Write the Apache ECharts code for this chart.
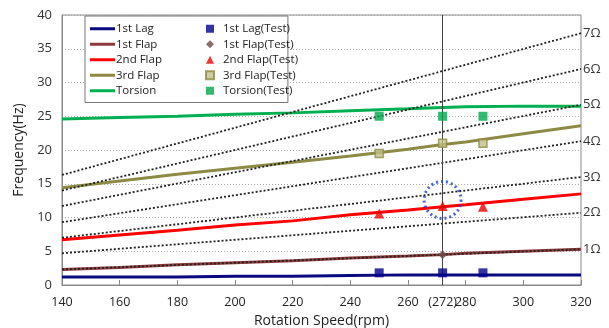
<!DOCTYPE html>
<html><head><meta charset="utf-8">
<script src="https://cdn.jsdelivr.net/npm/echarts@6/dist/echarts.min.js"></script>
<style>html,body{margin:0;padding:0;background:#fff}#c{width:609px;height:328px}</style>
</head><body><div id="c"></div>
<script>
// ---- data ----
const rpm      = [140, 160, 180, 200, 220, 240, 260, 272, 280, 300, 320];
const lag1     = [1.2, 1.2, 1.2, 1.3, 1.3, 1.4, 1.5, 1.5, 1.5, 1.5, 1.5];
const flap1    = [2.3, 2.6, 3.0, 3.3, 3.6, 4.0, 4.3, 4.5, 4.7, 5.0, 5.3];
const flap2    = [6.7, 7.4, 8.1, 8.9, 9.5, 10.4, 11.1, 11.6, 11.9, 12.7, 13.5];
const flap3    = [14.4, 15.4, 16.4, 17.3, 18.2, 19.1, 20.1, 20.8, 21.2, 22.4, 23.6];
const torsion  = [24.6, 24.8, 25.0, 25.3, 25.5, 25.8, 26.1, 26.3, 26.4, 26.5, 26.5];

const testRpm      = [250, 272, 286];
const lagTest      = [1.8, 1.8, 1.8];
const flap1TestRpm = [272];
const flap1Test    = [4.5];
const flap2Test    = [10.6, 11.7, 11.6];
const flap3Test    = [19.5, 21.0, 21.0];
const torsionTest  = [25.0, 25.0, 25.0];

const omegaRpm    = [140, 320];
const omegaLabels = ['1Ω', '2Ω', '3Ω', '4Ω', '5Ω', '6Ω', '7Ω'];
const omegaVals   = [[2.3, 5.3], [4.7, 10.7], [7.0, 16.0], [9.3, 21.3], [11.7, 26.7], [14.0, 32.0], [16.3, 37.3]];

const markRpm = 272;
const circleAt = [272, 12.6];

const xLabelValues = [140, 160, 180, 200, 220, 240, 260, 272, 280, 300, 320];
const xTickValues  = [140, 160, 180, 200, 220, 240, 260, 280, 300, 320];

// ---- chart ----
const FONT = 'Open Sans';
const zip = (xs, ys) => xs.map((x, i) => [x, ys[i]]);

const lineSeries = (name, ys, color) => ({
  name, type: 'line', data: zip(rpm, ys), symbol: 'none', smooth: false,
  lineStyle: { color, width: 3 }, itemStyle: { color }, z: 3
});

const series = [];
omegaVals.forEach((v, i) => {
  series.push({
    name: omegaLabels[i], type: 'line', data: zip(omegaRpm, v), symbol: 'none',
    lineStyle: { color: '#222', width: 1.8, type: [2, 2] }, z: 4, silent: true,
    endLabel: { show: true, formatter: omegaLabels[i], color: '#333', fontSize: 13, fontFamily: FONT, distance: 2 }
  });
});
series.push(lineSeries('1st Lag', lag1, '#0a0a80'));
series.push(lineSeries('1st Flap', flap1, '#8e3b3b'));
series.push(lineSeries('2nd Flap', flap2, '#ff0000'));
series.push(lineSeries('3rd Flap', flap3, '#8c8a45'));
series.push(lineSeries('Torsion', torsion, '#00b050'));

series[series.length - 1].markLine = {
  silent: true, symbol: 'none', label: { show: false },
  lineStyle: { color: '#444', width: 1, type: 'solid' },
  data: [{ xAxis: markRpm }]
};

series.push({ name: '1st Lag(Test)', type: 'scatter', data: zip(testRpm, lagTest), symbol: 'rect', symbolSize: 9, itemStyle: { color: '#00008c' }, z: 6 });
series.push({ name: '1st Flap(Test)', type: 'scatter', data: zip(flap1TestRpm, flap1Test), symbol: 'diamond', symbolSize: 9, itemStyle: { color: '#6e4848' }, z: 6 });
series.push({ name: '2nd Flap(Test)', type: 'scatter', data: zip(testRpm, flap2Test), symbol: 'triangle', symbolSize: 10, itemStyle: { color: '#ee0000' }, z: 6 });
series.push({ name: '3rd Flap(Test)', type: 'scatter', data: zip(testRpm, flap3Test), symbol: 'rect', symbolSize: 8, itemStyle: { color: '#c2bf8a', borderColor: '#8c8a45', borderWidth: 1.5 }, z: 6 });
series.push({ name: 'Torsion(Test)', type: 'scatter', data: zip(testRpm, torsionTest), symbol: 'rect', symbolSize: 9, itemStyle: { color: '#00a84c' }, z: 6 });
series.push({ name: 'circle', type: 'scatter', data: [circleAt], symbol: 'circle', symbolSize: 37, silent: true,
  itemStyle: { color: 'rgba(0,0,0,0)', borderColor: '#1f3fd0', borderWidth: 3, borderType: [2, 3] }, z: 7 });

const chart = echarts.init(document.getElementById('c'), null, { renderer: 'canvas' });
chart.setOption({
  animation: false,
  backgroundColor: '#fff',
  textStyle: { fontFamily: FONT },
  grid: { left: 62, right: 28, top: 15, bottom: 43, outerBoundsMode: 'none', containLabel: false,
    show: true, borderColor: '#888', borderWidth: 1, backgroundColor: 'transparent' },
  legend: [{
    data: ['1st Lag', '1st Flap', '2nd Flap', '3rd Flap', 'Torsion'],
    orient: 'vertical', left: 85, top: 16,
    icon: 'rect', itemWidth: 25, itemHeight: 3, itemGap: 2,
    padding: [6, 126, 5, 5],
    backgroundColor: '#fff', borderColor: '#777', borderWidth: 1,
    textStyle: { fontSize: 11.5, color: '#222', fontFamily: FONT, padding: [0, 0, 0, -4], lineHeight: 13.5 },
    selectedMode: false, z: 10
  }, {
    data: ['1st Lag(Test)', '1st Flap(Test)', '2nd Flap(Test)', '3rd Flap(Test)', 'Torsion(Test)'],
    orient: 'vertical', left: 201, top: 16,
    itemWidth: 8, itemHeight: 8, itemGap: 2,
    padding: [6, 4, 5, 4],
    textStyle: { fontSize: 11.5, color: '#222', fontFamily: FONT, padding: [0, 0, 0, 4], lineHeight: 13.5 },
    selectedMode: false, z: 11
  }],
  xAxis: {
    type: 'value', min: 140, max: 320, interval: 20,
    name: 'Rotation Speed(rpm)', nameLocation: 'middle', nameGap: 28,
    nameTextStyle: { fontSize: 14, color: '#222', fontFamily: FONT },
    axisLine: { show: true, lineStyle: { color: '#888' } },
    axisTick: { show: true, inside: true, length: 5, lineStyle: { color: '#888' }, customValues: xTickValues },
    axisLabel: { fontSize: 12.5, color: '#222', margin: 11, fontFamily: FONT,
      customValues: xLabelValues,
      formatter: v => v === 272 ? '(272)' : String(v) },
    splitLine: { show: false }
  },
  yAxis: {
    type: 'value', min: 0, max: 40, interval: 5,
    name: 'Frequency(Hz)', nameLocation: 'middle', nameGap: 36,
    nameTextStyle: { fontSize: 14, color: '#222', fontFamily: FONT },
    axisLine: { show: true, lineStyle: { color: '#888' } },
    axisTick: { show: false },
    axisLabel: { fontSize: 13, color: '#333', margin: 10, fontFamily: FONT },
    splitLine: { show: true, lineStyle: { color: '#aaa', type: [1, 2], width: 1 } }
  },
  series
});
</script></body></html>
